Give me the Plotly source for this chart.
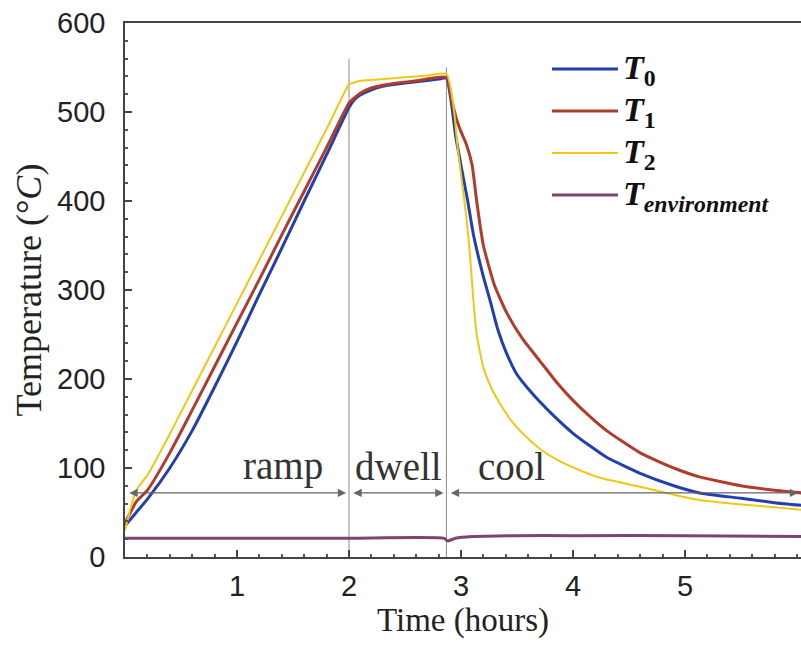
import plotly.graph_objects as go

# ---------------- data ----------------
t0_x = [0, 0.1, 0.2, 0.4, 0.6, 0.8, 1.0, 1.2, 1.4, 1.6, 1.8, 2.0, 2.05, 2.1, 2.2, 2.3, 2.4, 2.6, 2.8, 2.87,
        2.92, 2.95, 3.0, 3.06, 3.11, 3.2, 3.26, 3.33, 3.41, 3.5, 3.6, 3.7, 3.85, 4.0, 4.15, 4.3, 4.6, 4.9,
        5.13, 5.5, 5.8, 6.04]
t0_y = [35, 50, 65, 100, 142, 191, 242, 295, 347, 400, 452, 505, 514, 519, 525, 529, 531, 534, 537, 538,
        505, 475, 440, 400, 363, 315, 288, 255, 228, 205, 189, 175, 156, 139, 125, 112, 94, 80,
        72, 66, 61, 58]

t1_x = [0, 0.1, 0.2, 0.4, 0.6, 0.8, 1.0, 1.2, 1.4, 1.6, 1.8, 2.0, 2.05, 2.1, 2.2, 2.4, 2.6, 2.87,
        2.92, 2.96, 3.0, 3.05, 3.1, 3.14, 3.2, 3.3, 3.41, 3.55, 3.7, 3.85, 4.0, 4.15, 4.3, 4.6, 4.9,
        5.13, 5.5, 5.8, 6.04]
t1_y = [38, 62, 75, 117, 165, 214, 263, 312, 362, 411, 460, 510, 516, 521, 527, 532, 535, 539,
        512, 492, 478, 463, 440, 400, 350, 305, 274, 245, 221, 197, 176, 158, 142, 117, 100,
        90, 80, 75, 72]

t2_x = [0, 0.05, 0.1, 0.2, 0.37, 0.6, 0.8, 1.0, 1.2, 1.4, 1.6, 1.8, 1.98, 2.0, 2.1, 2.3, 2.5, 2.7, 2.87,
        2.93, 2.97, 3.0, 3.05, 3.08, 3.11, 3.14, 3.2, 3.26, 3.33, 3.45, 3.55, 3.7, 3.86, 4.05, 4.24, 4.6,
        4.9, 5.13, 5.5, 5.8, 6.04]
t2_y = [30, 55, 75, 92, 131, 187, 236, 285, 334, 383, 432, 481, 527, 531, 535, 537, 539, 541, 543,
        510, 460, 430, 380, 340, 290, 250, 213, 193, 176, 153, 139, 122, 109, 98, 89, 79,
        70, 64, 59, 56, 53]

env_x = [0, 1.0, 2.0, 2.85, 2.88, 2.95, 3.1, 3.5, 4.0, 5.0, 6.04]
env_y = [21, 21, 21, 21, 18, 21, 23, 24, 24, 24, 23]

series_names = ["T0", "T1", "T2", "Tenv"]
legend_labels = ["<b><i>T</i></b><sub><b>0</b></sub>",
                 "<b><i>T</i></b><sub><b>1</b></sub>",
                 "<b><i>T</i></b><sub><b>2</b></sub>",
                 "<b><i>T</i></b><sub><b><i>environment</i></b></sub>"]
series_colors = ["#2140ad", "#b23c2c", "#f0c814", "#7d4470"]
series_widths = [3, 3, 2, 3]

phase_bounds = [0.0, 2.0, 2.87, 6.036]
phase_labels = ["ramp", "dwell", "cool"]
phase_label_y = 102
arrow_y = 72
vline_tops = [560, 550]

x_ticks = [1, 2, 3, 4, 5]
y_ticks = [0, 100, 200, 300, 400, 500, 600]

# ---------------- figure ----------------
fig = go.Figure()
xs = [t0_x, t1_x, t2_x, env_x]
ys = [t0_y, t1_y, t2_y, env_y]
for name, x, y, c, w in zip(series_names, xs, ys, series_colors, series_widths):
    fig.add_trace(go.Scatter(x=x, y=y, mode="lines", name=name,
                             line=dict(color=c, width=w, shape="spline", smoothing=0.5),
                             showlegend=False))

# phase boundary lines
for xb, top in zip(phase_bounds[1:3], vline_tops):
    fig.add_shape(type="line", xref="x", yref="y", x0=xb, x1=xb, y0=0, y1=top,
                  line=dict(color="#8a8a8a", width=1), layer="below")

# double-headed arrows + labels
gap = 0.025
for i, lab in enumerate(phase_labels):
    a, b = phase_bounds[i], phase_bounds[i + 1]
    fig.add_annotation(x=b - gap, y=arrow_y, ax=a + gap, ay=arrow_y,
                       xref="x", yref="y", axref="x", ayref="y",
                       showarrow=True, arrowhead=2, startarrowhead=2, arrowside="end+start",
                       arrowsize=1.4, startarrowsize=1.4, arrowwidth=1.2, arrowcolor="#666666",
                       standoff=0, startstandoff=0, text="")
label_x = [1.41, 2.44, 3.45]
for lx, lab in zip(label_x, phase_labels):
    fig.add_annotation(x=lx, y=phase_label_y, xref="x", yref="y", text=lab, showarrow=False,
                       font=dict(family="Liberation Serif", size=39, color="#333333"))

# manual legend
leg_y_px = [69, 111, 153, 195]
for lab, c, w, py in zip(legend_labels, series_colors, series_widths, leg_y_px):
    yp = (557 - py) / 534
    fig.add_shape(type="line", xref="paper", yref="paper",
                  x0=(552 - 125) / 676, x1=(618 - 125) / 676, y0=yp, y1=yp,
                  line=dict(color=c, width=w))
    fig.add_annotation(xref="paper", yref="paper", x=(621 - 125) / 676, y=yp,
                       xanchor="left", yanchor="middle", yshift=-1, text=lab, showarrow=False,
                       font=dict(family="Liberation Serif", size=34, color="#111111"))

# x-axis title placed as annotation for precise vertical position
fig.add_annotation(xref="paper", yref="paper", x=0.5, y=(557 - 620) / 534,
                   xanchor="center", yanchor="middle", text="Time (hours)", showarrow=False,
                   font=dict(family="Liberation Serif", size=33, color="#222222"))

axis_font = dict(family="Liberation Sans", size=29, color="#222222")
fig.update_xaxes(range=[0, 6.036], tickmode="array", tickvals=x_ticks,
                 ticks="inside", ticklen=7, tickwidth=1.5, tickcolor="#444",
                 minor=dict(tickmode="linear", tick0=0, dtick=0.2, ticks="inside", ticklen=3,
                            tickcolor="#555"),
                 showline=True, linecolor="#444", linewidth=1.5, mirror=True,
                 showgrid=False, zeroline=False, tickfont=axis_font, ticklabelstandoff=2)
fig.update_yaxes(range=[0, 600], tickmode="array", tickvals=y_ticks,
                 ticks="inside", ticklen=7, tickwidth=1.5, tickcolor="#444",
                 minor=dict(tickmode="linear", tick0=0, dtick=20, ticks="inside", ticklen=3,
                            tickcolor="#555"),
                 showline=True, linecolor="#444", linewidth=1.5, mirror=False,
                 showgrid=False, zeroline=False, tickfont=axis_font, ticklabelstandoff=12,
                 title=dict(text="Temperature (°<i>C</i>)", standoff=4,
                            font=dict(family="Liberation Serif", size=36, color="#222222")))

fig.update_layout(width=801, height=647, margin=dict(l=125, r=0, t=23, b=90),
                  plot_bgcolor="white", paper_bgcolor="white", showlegend=False)

fig.write_html("out.html")
